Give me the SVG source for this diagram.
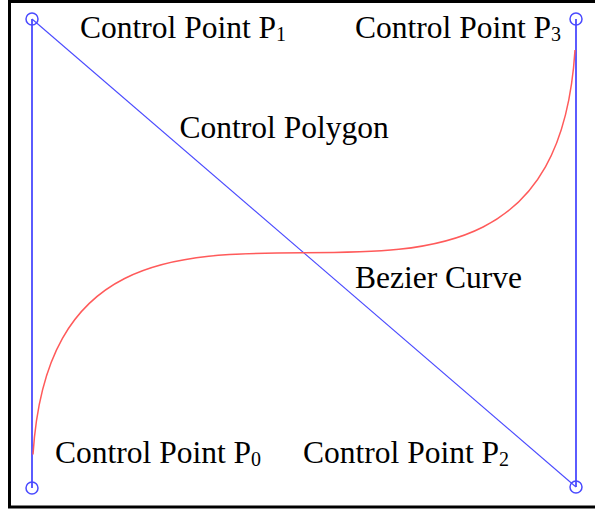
<svg xmlns="http://www.w3.org/2000/svg" width="595" height="509" viewBox="0 0 595 509">
<style>
.lbl{font-family:"Liberation Serif","Times New Roman",serif;font-size:31.5px;fill:#000}
.sub{font-size:20px}
.poly{stroke:#4a4aff;fill:none}
.pt{stroke:#4a4aff;stroke-width:1.5;fill:none}
.curve{stroke:#ff5a5a;stroke-width:1.5;fill:none}
</style>
<rect x="0" y="0" width="595" height="509" fill="#fff"/>
<rect x="9.5" y="1.5" width="600" height="505.5" fill="none" stroke="#000" stroke-width="3"/>
<g id="connectors">
<line class="poly" x1="32" y1="488" x2="32" y2="19" stroke-width="1.8"/>
<line class="poly" x1="32" y1="19" x2="576" y2="487" stroke-width="1.1"/>
<line class="poly" x1="576" y1="487" x2="576" y2="19" stroke-width="1.8"/>
</g>
<g id="bezier-curve">
<path class="curve" d="M33,454.5 C58.2,52.4 549.8,453.6 575,50"/>
</g>
<g id="P0"><circle class="pt" cx="32" cy="488" r="6"/></g>
<g id="P1"><circle class="pt" cx="32" cy="19" r="6"/></g>
<g id="P2"><circle class="pt" cx="576" cy="487" r="6"/></g>
<g id="P3"><circle class="pt" cx="576" cy="19" r="6"/></g>
<g id="labels">
<text class="lbl" x="80" y="38">Control Point P<tspan class="sub" dy="3">1</tspan></text>
<text class="lbl" x="355" y="38">Control Point P<tspan class="sub" dy="3">3</tspan></text>
<text class="lbl" x="179.5" y="138.3">Control Polygon</text>
<text class="lbl" x="355" y="288.3">Bezier Curve</text>
<text class="lbl" x="55" y="463">Control Point P<tspan class="sub" dy="3">0</tspan></text>
<text class="lbl" x="303" y="463">Control Point P<tspan class="sub" dy="3">2</tspan></text>
</g>
</svg>
